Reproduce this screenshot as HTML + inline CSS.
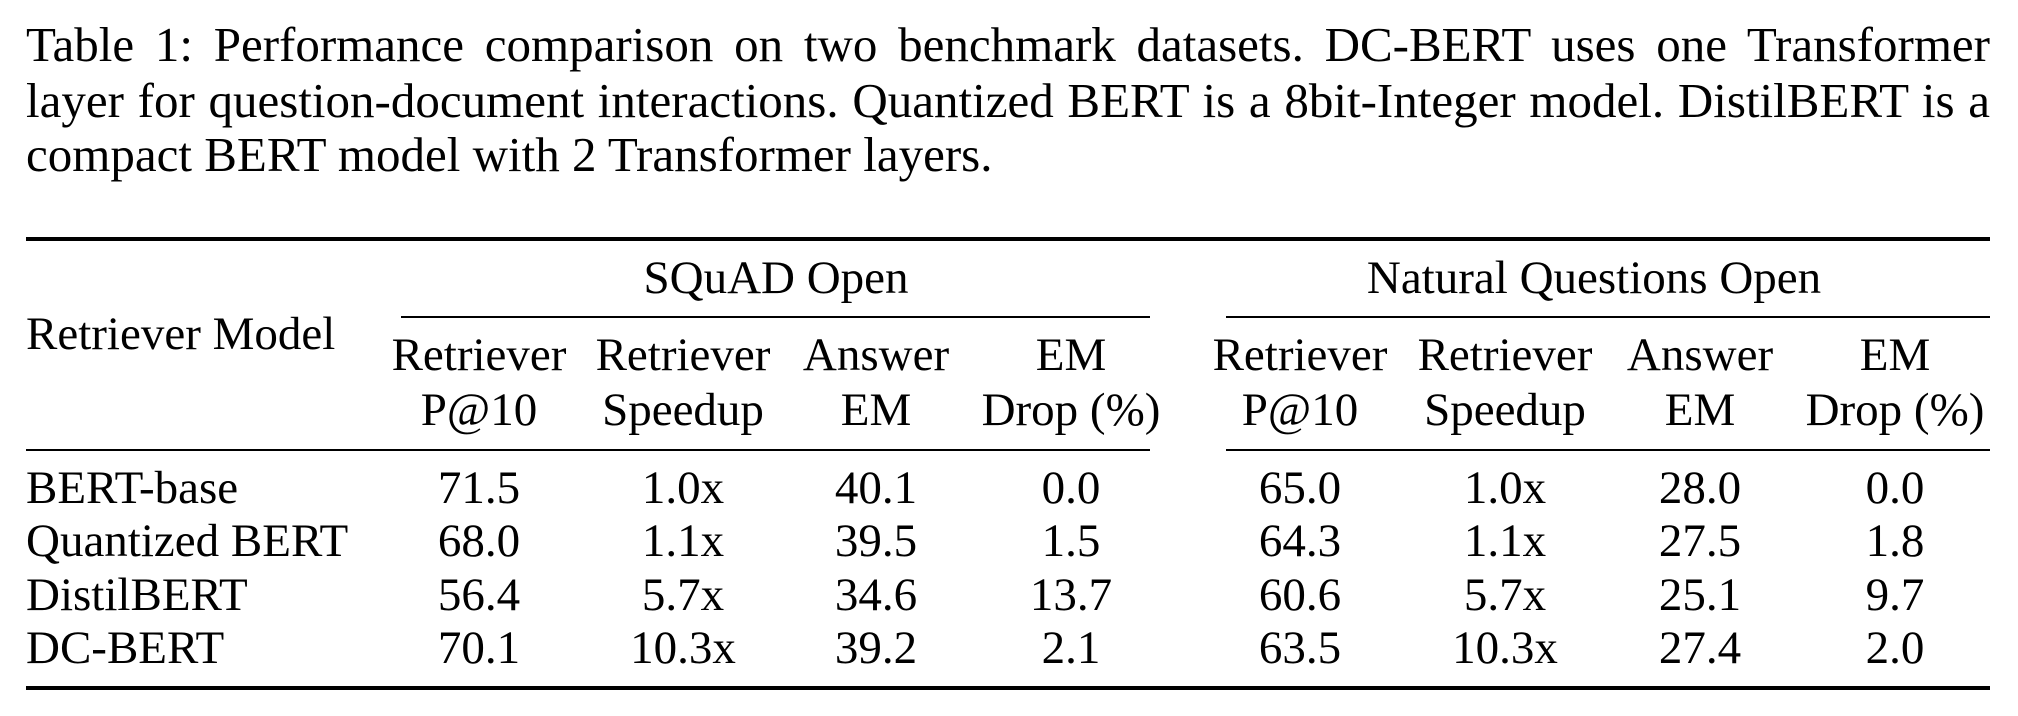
<!DOCTYPE html>
<html><head><meta charset="utf-8"><style>
html,body{margin:0;padding:0;background:#fff;}
body{width:2018px;height:716px;position:relative;overflow:hidden;font-family:"Liberation Serif","Times New Roman",serif;color:#000;}
.cap{position:absolute;left:26px;width:1964px;font-size:49px;line-height:54px;text-align:justify;text-align-last:justify;white-space:nowrap;}
.cap.last{text-align-last:left;}
.t{position:absolute;font-size:47px;line-height:50px;white-space:nowrap;transform:translateX(-50%);}
.l{position:absolute;font-size:47px;line-height:50px;white-space:nowrap;}
.rule{position:absolute;background:#000;}
</style></head><body>
<div class="cap" style="top:18px">Table 1: Performance comparison on two benchmark datasets. DC-BERT uses one Transformer</div>
<div class="cap" style="top:74px">layer for question-document interactions. Quantized BERT is a 8bit-Integer model. DistilBERT is a</div>
<div class="cap last" style="top:128px">compact BERT model with 2 Transformer layers.</div>

<div class="rule" style="left:26px;width:1964px;top:237px;height:4px"></div>
<div class="rule" style="left:401px;width:749px;top:316px;height:2px"></div>
<div class="rule" style="left:1226px;width:764px;top:316px;height:2px"></div>
<div class="rule" style="left:26px;width:1124px;top:449px;height:2px"></div>
<div class="rule" style="left:1226px;width:764px;top:449px;height:2px"></div>
<div class="rule" style="left:26px;width:1964px;top:686px;height:4px"></div>

<div class="t" style="left:776px;top:253px">SQuAD Open</div>
<div class="t" style="left:1594px;top:253px">Natural Questions Open</div>
<div class="l" style="left:26px;top:309px">Retriever Model</div>

<script>
const cols=[479,683,876,1071,1300,1505,1700,1895];
const hdr1=["Retriever","Retriever","Answer","EM","Retriever","Retriever","Answer","EM"];
const hdr2=["P@10","Speedup","EM","Drop (%)","P@10","Speedup","EM","Drop (%)"];
const models=["BERT-base","Quantized BERT","DistilBERT","DC-BERT"];
const rowBERT=["71.5","1.0x","40.1","0.0","65.0","1.0x","28.0","0.0"];
const rowQuant=["68.0","1.1x","39.5","1.5","64.3","1.1x","27.5","1.8"];
const rowDistil=["56.4","5.7x","34.6","13.7","60.6","5.7x","25.1","9.7"];
const rowDC=["70.1","10.3x","39.2","2.1","63.5","10.3x","27.4","2.0"];
const rows=[rowBERT,rowQuant,rowDistil,rowDC];
const rowY=[488,541,595,648];
const b=document.body;
function cell(txt,x,y,cls){const d=document.createElement('div');d.className=cls;d.textContent=txt;d.style.left=x+'px';d.style.top=(y-25)+'px';b.appendChild(d);return d;}
hdr1.forEach((h,i)=>{const d=cell(h,cols[i],355,'t');

});
hdr2.forEach((h,i)=>{const d=cell(h,cols[i],410,'t');

});
models.forEach((m,r)=>{const d=cell(m,26,rowY[r],'l');


rows[r].forEach((v,i)=>{const c=cell(v,cols[i],rowY[r],'t');

});});
</script>
</body></html>
